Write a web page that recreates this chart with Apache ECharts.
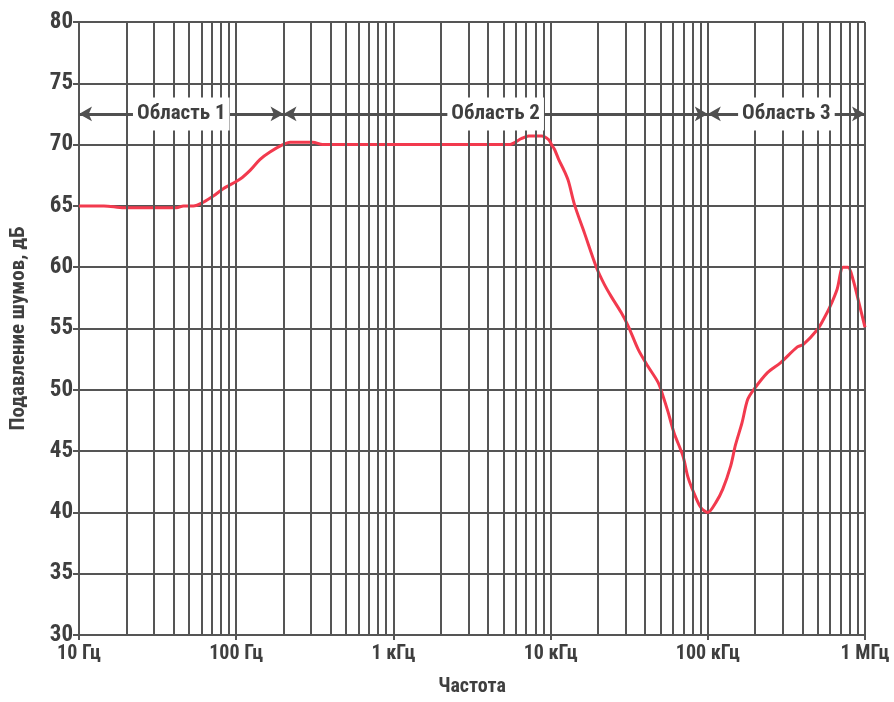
<!DOCTYPE html>
<html><head><meta charset="utf-8">
<script src="https://cdn.jsdelivr.net/npm/echarts@6/dist/echarts.min.js"></script>
<style>html,body{margin:0;padding:0;background:#fff}#c{width:894px;height:702px}</style>
</head><body><div id="c"></div>
<script>
// Frequency (Hz) and noise suppression (dB)
const freq = [10, 14.4, 19.3, 30, 41.7, 46.2, 53.4, 61.8, 71.5, 82.7, 106, 122.6, 141.9, 164, 198, 220, 307, 355, 500, 1000, 2000, 5420, 6550, 7260, 8770, 9710, 10140, 10600, 11250, 12270, 13000, 14190, 16410, 19550, 21970, 24330, 28130, 31170, 36060, 41690, 48270, 51880, 55850, 60950, 69500, 74700, 81500, 90300, 100000, 112400, 124500, 139900, 150000, 165000, 179200, 195500, 239700, 289800, 371500, 405500, 496900, 542000, 600000, 664700, 725600, 780000, 839000, 903000, 1000000];
const suppression = [65.0, 65.0, 64.85, 64.85, 64.85, 65.0, 65.0, 65.3, 65.8, 66.4, 67.2, 67.9, 68.8, 69.4, 70.0, 70.2, 70.2, 70.0, 70.0, 70.0, 70.0, 70.0, 70.5, 70.7, 70.7, 70.4, 70.0, 69.6, 68.8, 67.8, 67.0, 65.1, 62.8, 60.0, 58.6, 57.6, 56.3, 55.2, 53.3, 51.9, 50.6, 49.5, 48.2, 46.5, 44.6, 42.9, 41.6, 40.4, 40.0, 40.8, 41.9, 43.8, 45.5, 47.3, 49.2, 50.0, 51.4, 52.2, 53.5, 53.7, 54.9, 55.7, 56.8, 58.2, 60.0, 60.0, 59.0, 57.4, 55.1];
const minorGridFreqs = [20,30,40,50,60,70,80,90,200,300,400,500,600,700,800,900,2000,3000,4000,5000,6000,7000,8000,9000,20000,30000,40000,50000,60000,70000,80000,90000,200000,300000,400000,500000,600000,700000,800000,900000];
const regionBounds = [10, 200, 100000, 1000000];
const regionNames = ['Область 1', 'Область 2', 'Область 3'];
const regionArrowLevel = 72.5;
const xTickLabels = {10:'10 Гц', 100:'100 Гц', 1000:'1 кГц', 10000:'10 кГц', 100000:'100 кГц', 1000000:'1 МГц'};
const yMin = 30, yMax = 80, yStep = 5;
const xAxisName = 'Частота';
const yAxisName = 'Подавление шумов, дБ';

const FONT = "'Liberation Sans Narrow','Roboto Condensed','Arial Narrow',Roboto,sans-serif";
const TXT = '#3f3f3f';
const GRID = '#555';

const lineData = freq.map((f, i) => [f, suppression[i]]);
const arrows = [];
const labels = [];
for (let i = 0; i < regionNames.length; i++) {
  const a = regionBounds[i], b = regionBounds[i + 1];
  arrows.push([{coord: [a, regionArrowLevel]}, {coord: [b, regionArrowLevel]}]);
  labels.push([Math.sqrt(a * b), regionArrowLevel, regionNames[i]]);
}

const chart = echarts.init(document.getElementById('c'));
chart.setOption({
  animation: false,
  backgroundColor: '#fff',
  grid: {left: 75, right: 29, top: 22, bottom: 66, containLabel: false},
  xAxis: {
    type: 'log', logBase: 10, min: 10, max: 1000000,
    name: xAxisName, nameLocation: 'middle', nameGap: 42,
    nameTextStyle: {fontFamily: FONT, fontWeight: 'bold', fontSize: 20, color: TXT},
    axisLine: {show: true, lineStyle: {color: GRID, width: 2}},
    axisTick: {show: true, length: 5, lineStyle: {color: GRID, width: 2}},
    axisLabel: {fontFamily: FONT, fontWeight: 'bold', fontSize: 20, color: TXT, margin: 9,
      formatter: v => xTickLabels[Math.round(v)] || ''},
    splitLine: {show: true, lineStyle: {color: GRID, width: 2}}
  },
  yAxis: {
    type: 'value', min: yMin, max: yMax, interval: yStep,
    name: yAxisName, nameLocation: 'middle', nameGap: 50, nameRotate: 90,
    nameTextStyle: {fontFamily: FONT, fontWeight: 'bold', fontSize: 21, color: TXT},
    axisLine: {show: true, lineStyle: {color: GRID, width: 2}},
    axisTick: {show: true, length: 6, lineStyle: {color: GRID, width: 2}},
    axisLabel: {fontFamily: FONT, fontWeight: 'bold', fontSize: 23, color: TXT, margin: 6},
    splitLine: {show: true, lineStyle: {color: GRID, width: 2}}
  },
  series: [
    {
      type: 'line', data: [], silent: true,
      markLine: {
        silent: true, symbol: 'none', animation: false,
        label: {show: false},
        lineStyle: {color: GRID, width: 2, type: 'solid'},
        data: minorGridFreqs.map(f => ({xAxis: f}))
      }
    },
    {
      type: 'line', data: [], silent: true, z: 3,
      markLine: {
        silent: true, symbol: ['arrow', 'arrow'], symbolSize: [11, 13], animation: false,
        label: {show: false},
        lineStyle: {color: '#505050', width: 3, type: 'solid'},
        itemStyle: {color: '#505050'},
        data: arrows
      }
    },
    {
      type: 'scatter', data: labels, symbolSize: 0, z: 5, silent: true,
      itemStyle: {opacity: 1},
      label: {show: true, position: 'inside', formatter: p => p.value[2],
        fontFamily: FONT, fontWeight: 'bold', fontSize: 21, color: TXT,
        backgroundColor: '#fff', padding: [6, 4]}
    },
    {
      type: 'line', data: lineData, showSymbol: false, smooth: 0.3, z: 4,
      lineStyle: {color: '#f23a4e', width: 3}
    }
  ]
});
</script>
</body></html>
